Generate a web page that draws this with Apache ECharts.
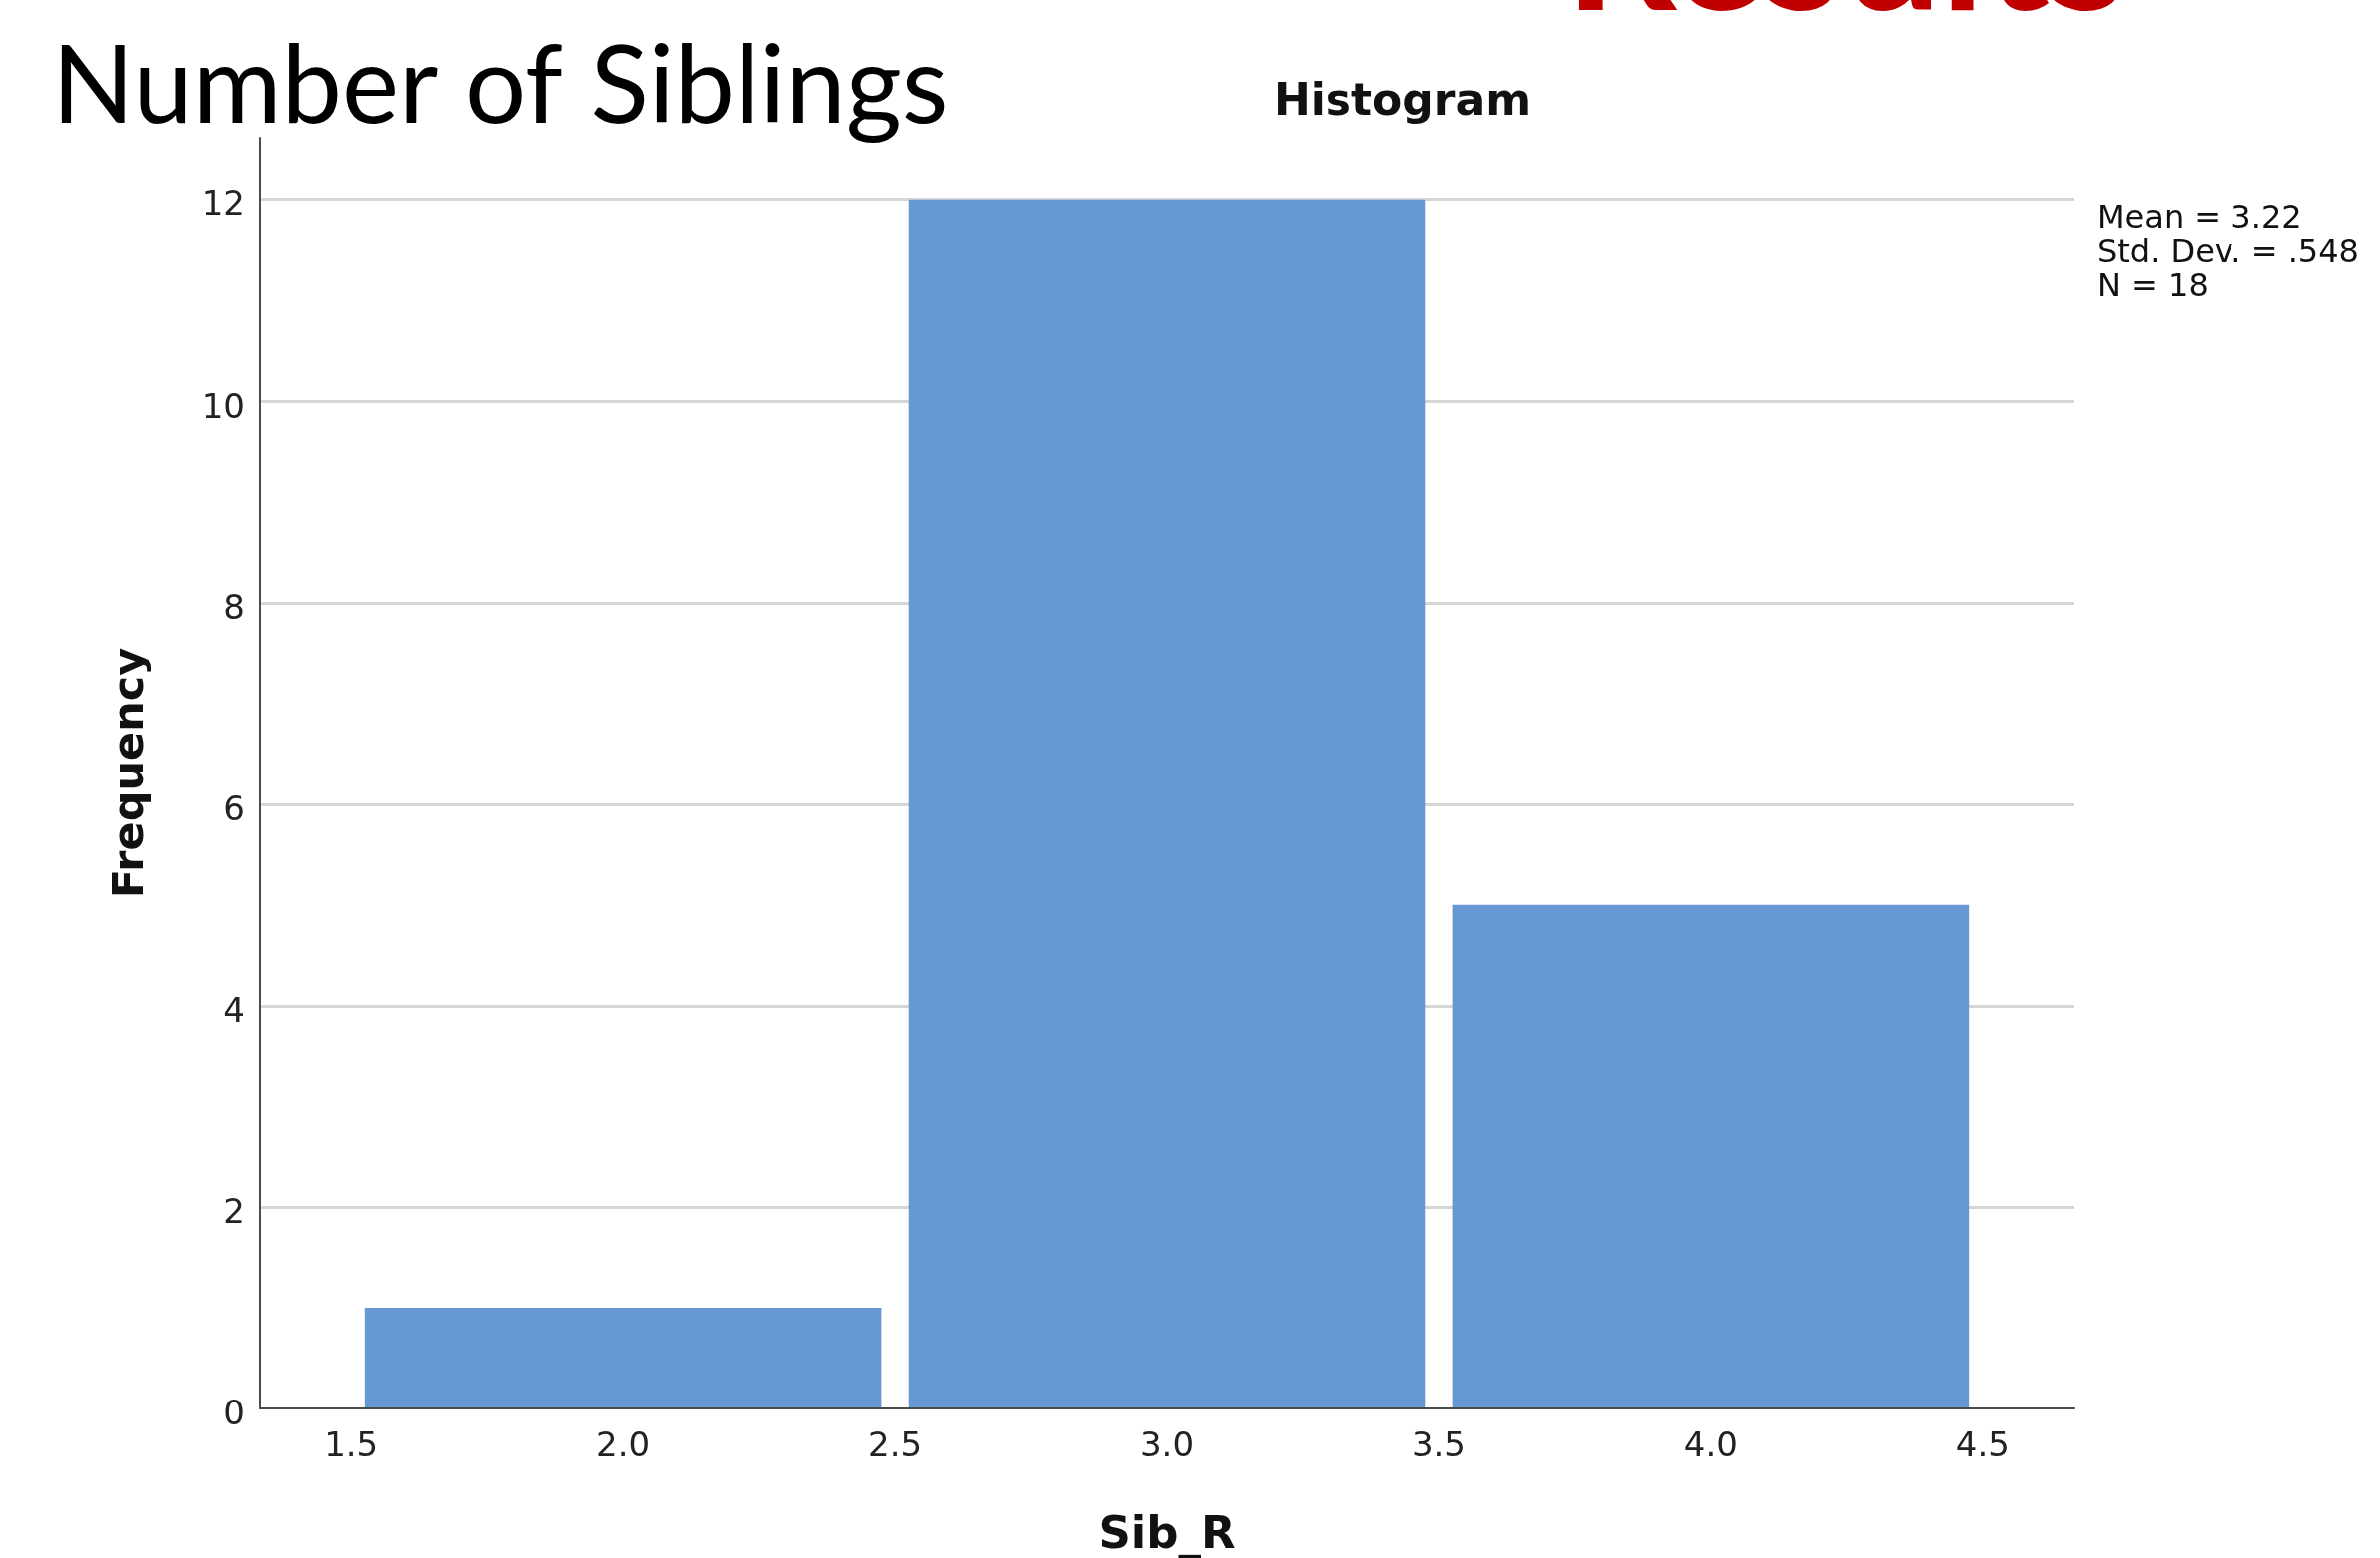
<!DOCTYPE html>
<html>
<head>
<meta charset="utf-8">
<script src="https://cdn.jsdelivr.net/npm/echarts@6/dist/echarts.min.js"></script>
<style>
html,body{margin:0;padding:0;background:#fff;}
#chart{width:2388px;height:1563px;}
</style>
</head>
<body>
<div id="chart"></div>
<script>
// ---- data ----
const binCenters = [2.0, 3.0, 4.0];
const frequencies = [1, 12, 5];
const binWidth = 1.0;
const xTickValues = [1.5, 2.0, 2.5, 3.0, 3.5, 4.0, 4.5];
const yTickInterval = 2;
const xRange = [1.333, 4.667];
const yRange = [0, 12.62];
const statsLines = ['Mean = 3.22', 'Std. Dev. = .548', 'N = 18'];
const slideTitle = 'Number of Siblings';
const slideHeading = 'Results';
const chartTitle = 'Histogram';
const xName = 'Sib_R';
const yName = 'Frequency';

const barFill = 0.95;
const barColor = '#6699d3';

const chart = echarts.init(document.getElementById('chart'));
const seriesData = binCenters.map((c, i) => [c, frequencies[i]]);

chart.setOption({
  backgroundColor: '#ffffff',
  animation: false,
  grid: { left: 261, right: 307, top: 138, bottom: 150, containLabel: false, outerBoundsMode: 'none' },
  xAxis: {
    type: 'value',
    min: xRange[0],
    max: xRange[1],
    z: 3,
    name: xName,
    nameLocation: 'middle',
    nameGap: 106,
    nameTextStyle: { fontFamily: 'DejaVu Sans', fontWeight: 'bold', fontSize: 45, color: '#111' },
    axisLine: { show: true, lineStyle: { color: '#4a4a4a', width: 2 } },
    axisTick: { show: false },
    splitLine: { show: false },
    axisLabel: {
      customValues: xTickValues,
      formatter: v => v.toFixed(1),
      fontFamily: 'DejaVu Sans',
      fontSize: 34,
      color: '#222',
      margin: 22
    }
  },
  yAxis: {
    type: 'value',
    min: yRange[0],
    max: yRange[1],
    interval: yTickInterval,
    name: yName,
    nameLocation: 'middle',
    nameGap: 108,
    nameRotate: 90,
    nameTextStyle: { fontFamily: 'DejaVu Sans', fontWeight: 'bold', fontSize: 43, color: '#111' },
    axisLine: { show: true, lineStyle: { color: '#4a4a4a', width: 2 } },
    axisTick: { show: false },
    axisLabel: {
      showMaxLabel: false,
      fontFamily: 'DejaVu Sans',
      fontSize: 34,
      color: '#222',
      margin: 15,
      formatter: v => '{a|' + v + '}',
      rich: { a: { fontFamily: 'DejaVu Sans', fontSize: 34, color: '#222', padding: [14, 0, 0, 0] } }
    },
    splitLine: {
      show: true,
      showMaxLine: false,
      showMinLine: false,
      lineStyle: { color: '#d6d6d6', width: 3 }
    }
  },
  series: [{
    type: 'custom',
    z: 2,
    data: seriesData,
    renderItem: function (params, api) {
      const x = api.value(0), y = api.value(1);
      const half = binWidth * barFill / 2;
      const p0 = api.coord([x - half, y]);
      const p1 = api.coord([x + half, 0]);
      return {
        type: 'rect',
        shape: { x: p0[0], y: p0[1], width: p1[0] - p0[0], height: p1[1] - p0[1] },
        style: { fill: barColor }
      };
    }
  }],
  graphic: [
    {
      type: 'text', left: 52, top: 34,
      style: { text: slideTitle, fontFamily: 'Lato', fontSize: 108, fill: '#000' }
    },
    {
      type: 'text', x: 1852, y: -47,
      style: { text: slideHeading, fontFamily: 'Lato', fontWeight: 'bold', fontSize: 176, fill: '#c00000', align: 'center', verticalAlign: 'middle' }
    },
    {
      type: 'text', x: 1407, y: 104,
      style: { text: chartTitle, fontFamily: 'DejaVu Sans', fontWeight: 'bold', fontSize: 44, fill: '#111', align: 'center', verticalAlign: 'middle' }
    },
    {
      type: 'text', x: 2104, y: 204,
      style: { text: statsLines.join('\n'), fontFamily: 'DejaVu Sans', fontSize: 32, lineHeight: 34, fill: '#111', align: 'left', verticalAlign: 'top' }
    }
  ]
});
</script>
</body>
</html>
